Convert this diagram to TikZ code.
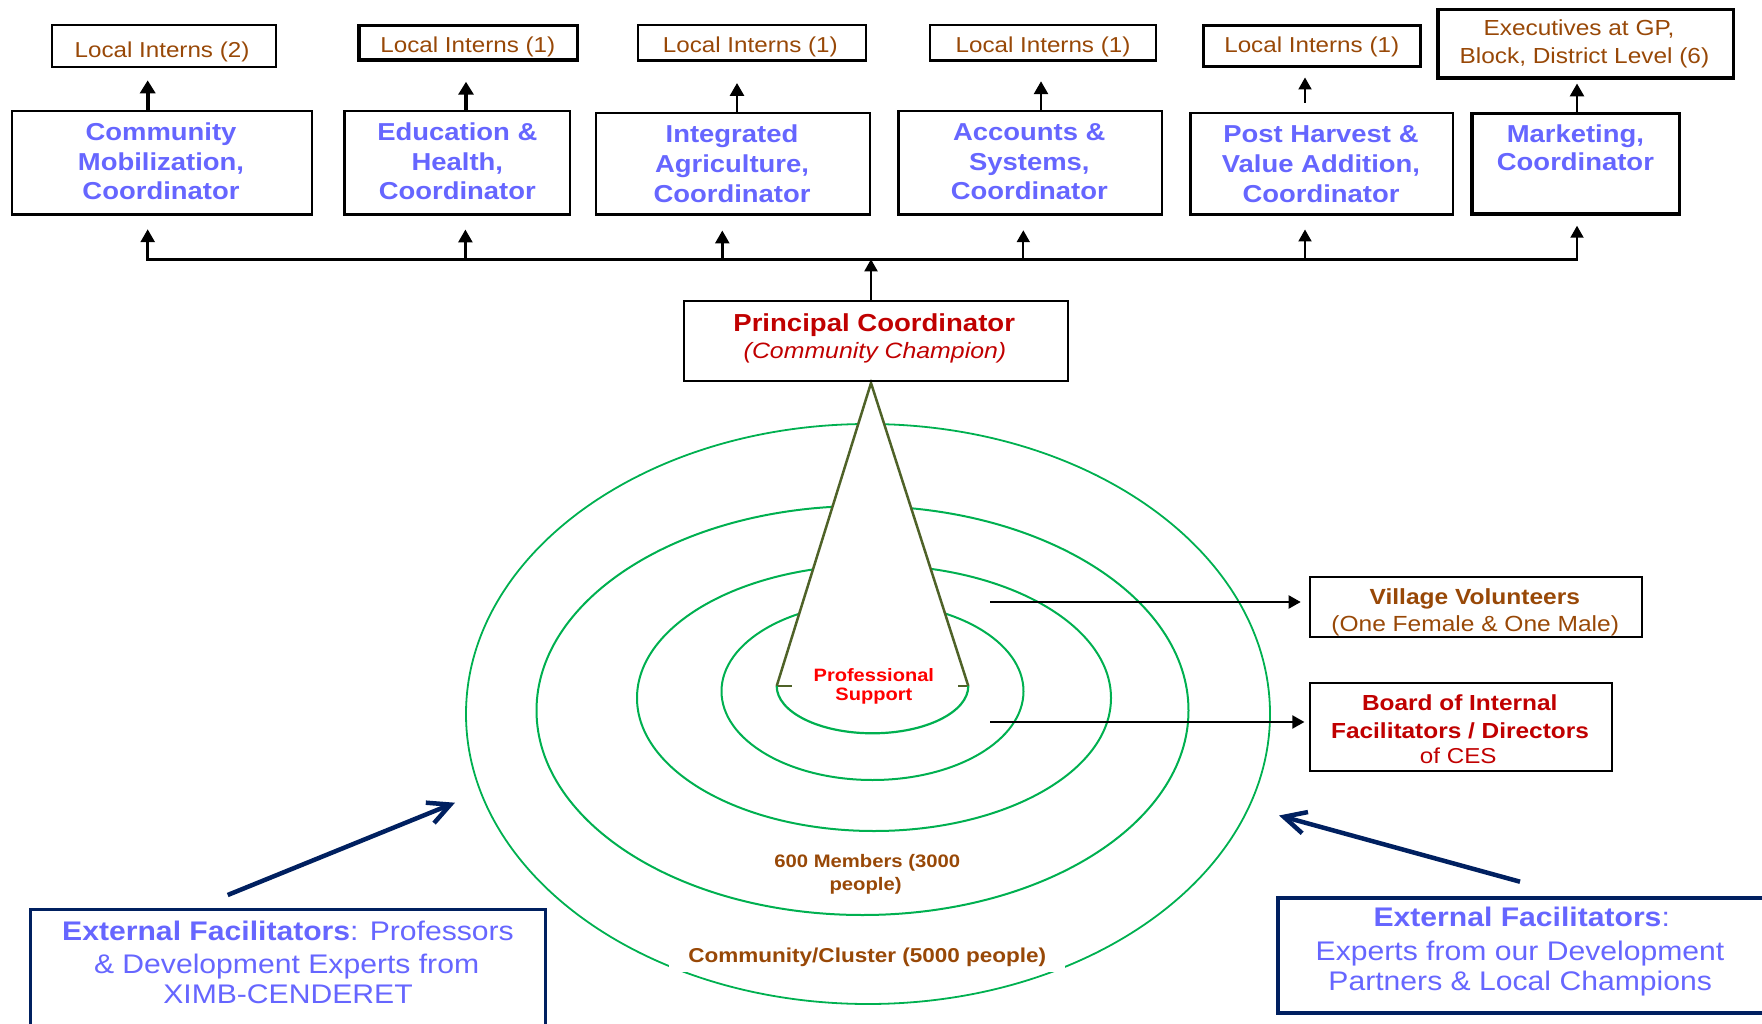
\documentclass[tikz,border=0pt]{standalone}
\usepackage{fontspec}
\setmainfont{Liberation Sans}[FakeStretch=1.12]
\usetikzlibrary{arrows.meta}
\definecolor{cblue}{RGB}{102,102,255}
\definecolor{cbrown}{RGB}{152,72,7}
\definecolor{cdred}{RGB}{192,0,0}
\definecolor{cred}{RGB}{255,0,0}
\definecolor{cnavy}{RGB}{0,32,96}
\definecolor{cgreen}{RGB}{0,176,80}
\definecolor{colive}{RGB}{79,98,40}
\newcommand\myfs[1]{\fontsize{#1}{#1}\selectfont}
\begin{document}
\begin{tikzpicture}[x=1pt,y=-1pt,
  sbox/.style={draw=black, line width=2.5pt, inner sep=0pt},
  stxt/.style={anchor=base, inner sep=0pt},
  sint/.style={stxt, text=cbrown, font=\myfs{21.6}},
  sexe/.style={stxt, text=cbrown, font=\myfs{21.8}},
  scrd/.style={stxt, text=cblue, font=\bfseries\myfs{24.5}},
  sext/.style={stxt, text=cblue, font=\myfs{26.9}},
  sring/.style={draw=cgreen, line width=2pt},
  athick/.style={line width=3.8pt, -{Triangle[length=13pt,width=15pt]}},
  amed/.style={line width=2.8pt, -{Triangle[length=13pt,width=14pt]}},
  athin/.style={line width=2pt, -{Triangle[length=12pt,width=13pt]}},
  sbluearr/.style={draw=cnavy, line width=4.5pt, -{Straight Barb[length=22pt,width=22pt]}}
]
\useasboundingbox (0,0) rectangle (1762,1024);

% ---------- concentric rings ----------
\draw[sring, line width=1.8pt] (868,714) ellipse [x radius=402, y radius=290];
\draw[sring] (862.5,710.5) ellipse [x radius=326, y radius=204.5];
\draw[sring] (874,698) ellipse [x radius=237, y radius=133];
\draw[sring] (872.5,691.3) ellipse [x radius=151, y radius=88.7];

% ---------- cone ----------
\fill[white] (871,383) -- (776.7,686) arc[start angle=180, end angle=0, x radius=95.8, y radius=47.3] -- cycle;
\draw[colive, line width=2.5pt, line join=miter] (776.7,686) -- (871,383) -- (968.3,686);
\draw[colive, line width=2pt] (776.7,686) -- (791.7,686);
\draw[colive, line width=2pt] (958.3,686) -- (968.3,686);
\draw[sring, line width=2.2pt] (776.7,686) arc[start angle=180, end angle=0, x radius=95.8, y radius=47.3];

% ---------- top boxes ----------
\node[sbox, line width=2pt, minimum width=224pt, minimum height=42.3pt] (li1) at (164,45.85) {};
\node[sbox, line width=3.5pt, minimum width=218.5pt, minimum height=34.5pt] (li2) at (468,43) {};
\node[sbox, minimum width=227.9pt, minimum height=35.8pt] (li3) at (751.8,42.85) {};
\node[sbox, minimum width=225.9pt, minimum height=35.8pt] (li4) at (1042.8,42.85) {};
\node[sbox, line width=3pt, minimum width=217pt, minimum height=41.3pt] (li5) at (1312,45.85) {};
\node[sbox, line width=3.5pt, minimum width=295.5pt, minimum height=68.5pt] (exe) at (1585.5,44) {};

\node[sbox, minimum width=299.8pt, minimum height=103.5pt] (comm) at (161.85,163) {};
\node[sbox, minimum width=225.5pt, minimum height=103.5pt] (edu) at (457,163) {};
\node[sbox, minimum width=274pt, minimum height=101.5pt] (agr) at (732.75,164) {};
\node[sbox, minimum width=263.5pt, minimum height=103.5pt] (acc) at (1030,163) {};
\node[sbox, minimum width=262.5pt, minimum height=101.5pt] (post) at (1321.5,164) {};
\node[sbox, line width=3.5pt, minimum width=207.5pt, minimum height=100.5pt] (mkt) at (1575.5,164) {};

\node[sbox, minimum width=383.8pt, minimum height=79.5pt] (pc) at (875.85,341) {};
\node[sbox, minimum width=331.8pt, minimum height=59.8pt] (vv) at (1475.85,606.85) {};
\node[sbox, minimum width=301.8pt, minimum height=87.8pt] (bd) at (1460.85,726.85) {};
\node[sbox, draw=cnavy, line width=3pt, minimum width=515.3pt, minimum height=130.8pt] (extL) at (287.85,974.6) {};
\node[sbox, draw=cnavy, line width=4pt, minimum width=490pt, minimum height=115pt] (extR) at (1523,955.5) {};

% ---------- texts ----------
\node[sint] (tli1) at (162,57.3) {Local Interns (2)};
\node[sint] (tli2) at (467.8,52.7) {Local Interns (1)};
\node[sint] (tli3) at (750.3,52.7) {Local Interns (1)};
\node[sint] (tli4) at (1043,52.7) {Local Interns (1)};
\node[sint] (tli5) at (1311.7,52.7) {Local Interns (1)};
\node[sexe] (texe1) at (1579,36) {Executives at GP,};
\node[sexe] (texe2) at (1584.4,63.3) {Block, District Level (6)};

\node[scrd] (tc1a) at (161,141) {Community};
\node[scrd] (tc1b) at (161,171) {Mobilization,};
\node[scrd] (tc1c) at (161,200) {Coordinator};
\node[scrd] (tc2a) at (457.3,140.7) {Education \&};
\node[scrd] (tc2b) at (457.3,170.7) {Health,};
\node[scrd] (tc2c) at (457.3,200) {Coordinator};
\node[scrd] (tc3a) at (732,142.7) {Integrated};
\node[scrd] (tc3b) at (732,172.7) {Agriculture,};
\node[scrd] (tc3c) at (732,202.7) {Coordinator};
\node[scrd] (tc4a) at (1029.3,140.7) {Accounts \&};
\node[scrd] (tc4b) at (1029.3,170.7) {Systems,};
\node[scrd] (tc4c) at (1029.3,200) {Coordinator};
\node[scrd] (tc5a) at (1321,142.7) {Post Harvest \&};
\node[scrd] (tc5b) at (1321,172.7) {Value Addition,};
\node[scrd] (tc5c) at (1321,202.7) {Coordinator};
\node[scrd] (tc6a) at (1575.4,142.7) {Marketing,};
\node[scrd] (tc6b) at (1575.4,170.7) {Coordinator};

\node[stxt, text=cdred, font=\bfseries\myfs{24.6}] (tpc1) at (874.2,331.7) {Principal Coordinator};
\node[stxt, text=cdred, font=\itshape\myfs{22.2}] (tpc2) at (875,359) {(Community Champion)};

\node[stxt, text=cred, font=\bfseries\myfs{17.9}] (tps1) at (873.8,681) {Professional};
\node[stxt, text=cred, font=\bfseries\myfs{17.9}] (tps2) at (873.8,700.7) {Support};

\node[stxt, text=cbrown, font=\bfseries\myfs{21.9}] (tvv1) at (1474.8,604) {Village Volunteers};
\node[stxt, text=cbrown, font=\myfs{21.9}] (tvv2) at (1475.2,631) {(One Female \& One Male)};

\node[stxt, text=cdred, font=\bfseries\myfs{21.8}] (tbd1) at (1459.7,710) {Board of Internal};
\node[stxt, text=cdred, font=\bfseries\myfs{21.8}] (tbd2) at (1460,738) {Facilitators / Directors};
\node[stxt, text=cdred, font=\myfs{21.6}] (tbd3) at (1458.3,763) {of CES};

\node[sext] (tel1) at (288,940) {{\bfseries External Facilitators}: Professors};
\node[sext] (tel2) at (286.6,973) {\& Development Experts from};
\node[sext] (tel3) at (288,1003.3) {XIMB-CENDERET};
\node[sext] (ter1) at (1521.7,926.7) {{\bfseries External Facilitators}:};
\node[sext] (ter2) at (1520,960) {Experts from our Development};
\node[sext] (ter3) at (1520.2,990.5) {Partners \& Local Champions};

\node[stxt, text=cbrown, font=\bfseries\myfs{18.1}] (tm1) at (867.3,867) {600 Members (3000};
\node[stxt, text=cbrown, font=\bfseries\myfs{18.1}] (tm2) at (865.6,890) {people)};
\node[stxt, text=cbrown, font=\bfseries\myfs{20.1}, fill=white, inner xsep=19pt, inner ysep=0pt, text height=24pt, text depth=9.3pt] (tcl) at (867.3,962.7) {Community/Cluster (5000 people)};

% ---------- arrows up to interns / executives ----------
\coordinate (u1) at ([xshift=-14.15pt]comm.north);
\draw[athick, shorten >=12.3pt] (u1) -- (u1 |- li1.south);
\coordinate (u2) at ([xshift=9pt]edu.north);
\draw[athick, shorten >=19.75pt] (u2) -- (u2 |- li2.south);
\coordinate (u3) at ([xshift=4.25pt]agr.north);
\draw[amed, shorten >=21pt] (u3) -- (u3 |- li3.south);
\coordinate (u4) at ([xshift=11pt]acc.north);
\draw[amed, shorten >=19.25pt] (u4) -- (u4 |- li4.south);
\coordinate (u5) at ([xshift=-16.5pt]post.north);
\draw[athin, shorten <=9.25pt, shorten >=9.5pt] (u5) -- (u5 |- li5.south);
\coordinate (u6) at ([xshift=1.5pt]mkt.north);
\draw[amed, shorten >=3.5pt] (u6) -- (u6 |- exe.south);

% ---------- bus and arrows up to coordinators ----------
\coordinate (busL) at (147.7,259.3);
\coordinate (busR) at (1577,259.3);
\draw[line width=2.5pt, line cap=rect] (busL) -- (busR);

\coordinate (d1) at ([xshift=-14.15pt]comm.south);
\draw[amed, shorten >=13.25pt] (d1 |- busL) -- (d1);
\coordinate (d2) at ([xshift=8.4pt]edu.south);
\draw[amed, shorten >=13.5pt] (d2 |- busL) -- (d2);
\coordinate (d3) at ([xshift=-10.45pt]agr.south);
\draw[amed, shorten >=14.5pt] (d3 |- busL) -- (d3);
\coordinate (d4) at ([xshift=-6.7pt]acc.south);
\draw[athin, shorten >=14.25pt] (d4 |- busL) -- (d4);
\coordinate (d5) at ([xshift=-16.5pt]post.south);
\draw[athin, shorten >=13.5pt] (d5 |- busL) -- (d5);
\coordinate (d6) at ([xshift=1.5pt]mkt.south);
\draw[athin, shorten >=9.75pt] (d6 |- busL) -- (d6);

\coordinate (p0) at ([xshift=-4.85pt]pc.north);
\draw[athin] (p0) -- (p0 |- busL);

% ---------- arrows to village volunteers / board ----------
\coordinate (vs) at (990,602);
\draw[athin, shorten >=8pt] (vs) -- (vs -| vv.west);
\coordinate (bs) at (990,722);
\draw[athin, shorten >=4.3pt] (bs) -- (bs -| bd.west);

% ---------- external facilitator arrows ----------
\coordinate (eLs) at (227.7,895);
\coordinate (eLt) at (455,802.7);
\draw[sbluearr] (eLs) -- (eLt);
\coordinate (eRs) at (1520,881.7);
\coordinate (eRt) at (1279,815.5);
\draw[sbluearr] (eRs) -- (eRt);
\end{tikzpicture}
\end{document}
